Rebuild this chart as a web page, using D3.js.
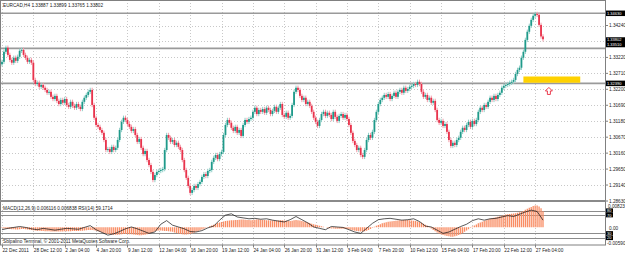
<!DOCTYPE html>
<html>
<head>
<meta charset="utf-8">
<script src="https://cdn.jsdelivr.net/npm/d3@7"></script>
<style>
body{margin:0;background:#fff;}
svg text{font-family:"Liberation Sans",Arial,sans-serif;}
</style>
</head>
<body>
<svg width="625" height="255"></svg>
<script>
// H4 closes (open of a bar = previous close)
var firstOpen = 1.3300;
var closes = [
1.3308,1.3340,1.3353,1.3330,1.3314,1.3305,1.3321,1.3311,1.3324,1.3343,1.3346,1.3330,1.3321,1.3308,1.3314,1.3305,
1.3250,1.3237,1.3241,1.3228,1.3234,1.3225,
1.3218,1.3209,1.3212,1.3196,1.3189,1.3199,1.3183,1.3173,
1.3186,1.3177,1.3189,1.3170,1.3164,1.3180,1.3167,1.3161,1.3173,1.3164,1.3157,
1.3180,1.3193,1.3202,1.3212,1.3218,
1.3170,1.3129,1.3106,1.3100,1.3090,
1.3081,1.3058,1.3026,
1.3029,1.3020,1.3036,1.3026,1.3033,
1.3058,1.3090,1.3116,1.3129,1.3122,
1.3109,1.3100,1.3087,1.3093,1.3074,1.3052,1.3061,1.3033,1.3013,1.3023,1.2994,1.2978,1.2956,
1.2930,1.2946,1.2956,1.2959,1.2962,1.2965,
1.3026,1.3074,
1.3065,1.3052,1.3058,1.3042,1.3049,1.3036,1.3026,
1.2994,1.2962,1.2937,1.2911,1.2889,
1.2898,1.2911,1.2905,1.2917,1.2924,
1.2940,1.2949,1.2943,1.2959,1.2962,
1.2988,1.3001,1.3010,1.2997,1.3013,1.3020,
1.3074,1.3106,1.3122,1.3113,
1.3097,1.3087,1.3100,1.3081,1.3090,
1.3071,1.3106,1.3122,1.3116,1.3125,
1.3129,1.3148,1.3161,1.3141,1.3154,
1.3148,1.3157,1.3145,1.3161,1.3154,1.3141,1.3151,1.3164,1.3148,1.3161,
1.3173,1.3138,1.3132,1.3145,1.3129,1.3135,
1.3170,1.3212,1.3225,1.3218,
1.3199,1.3186,1.3193,1.3173,1.3180,1.3167,
1.3148,1.3129,1.3116,1.3103,1.3122,
1.3141,1.3148,1.3135,1.3145,
1.3138,1.3125,1.3148,1.3132,1.3119,
1.3135,1.3141,1.3129,1.3138,1.3125,
1.3106,1.3081,1.3055,
1.3042,1.3026,1.3033,1.3010,
1.3004,
1.3026,1.3058,1.3074,1.3065,1.3084,
1.3122,1.3148,1.3173,1.3186,
1.3193,1.3202,1.3196,1.3205,1.3189,1.3199,1.3209,1.3196,
1.3212,1.3218,1.3209,1.3225,1.3215,1.3221,1.3228,
1.3231,1.3237,1.3234,1.3244,1.3237,
1.3212,1.3196,1.3202,1.3186,1.3193,1.3177,1.3183,
1.3154,1.3122,
1.3113,1.3119,1.3103,1.3109,
1.3084,1.3058,1.3039,
1.3049,1.3042,1.3058,1.3065,
1.3084,1.3097,1.3090,
1.3106,1.3116,1.3100,1.3119,1.3109,1.3122,
1.3148,1.3161,1.3154,1.3170,1.3164,
1.3180,1.3193,1.3186,1.3199,1.3189,1.3202,1.3209,
1.3225,1.3231,1.3234,
1.3237,1.3241,1.3244,1.3250,
1.3269,1.3282,1.3289,
1.3321,1.3340,
1.3378,1.3404,1.3423,
1.3442,1.3455,1.3461,
1.3458,
1.3426,1.3389,1.3380
];
var wick = 0.0007;

// MACD(12,26,9) main values, one per bar
var macd = [
-0.0002,-0.0004,-0.0005,-0.0006,-0.0006,
-0.0007,-0.0007,-0.0008,-0.0008,-0.0007,-0.0006,-0.0006,-0.0007,-0.0008,-0.0009,-0.0010,
-0.0011,-0.0012,-0.0013,-0.0013,-0.0014,-0.0014,-0.0015,-0.0015,-0.0015,-0.0016,-0.0016,-0.0016,-0.0016,-0.0016,
-0.0016,-0.0016,-0.0015,-0.0015,-0.0015,-0.0015,-0.0014,-0.0014,-0.0014,-0.0014,-0.0013,-0.0013,-0.0012,-0.0011,-0.0010,-0.0010,-0.0010,-0.0011,
-0.0013,-0.0015,-0.0017,-0.0019,-0.0021,-0.0023,-0.0025,-0.0026,-0.0027,-0.0028,-0.0028,-0.0028,-0.0027,-0.0026,-0.0025,-0.0025,-0.0025,-0.0026,-0.0026,-0.0027,-0.0028,-0.0029,-0.0030,-0.0030,-0.0029,-0.0028,-0.0026,
-0.0024,-0.0021,-0.0018,-0.0015,-0.0013,-0.0012,-0.0012,
-0.0013,-0.0014,-0.0014,-0.0015,-0.0016,-0.0017,-0.0019,-0.0021,-0.0023,-0.0025,-0.0026,-0.0027,-0.0027,-0.0026,-0.0025,-0.0023,-0.0020,-0.0017,-0.0014,-0.0011,
-0.0008,-0.0005,-0.0002,0.0001,0.0004,0.0007,0.0010,0.0013,
0.0016,0.0018,0.0020,0.0022,0.0024,0.0025,0.0026,0.0027,0.0027,0.0028,
0.0028,0.0029,0.0030,0.0030,0.0029,0.0028,0.0028,0.0027,0.0028,0.0029,0.0030,0.0030,0.0029,0.0028,0.0028,0.0027,0.0027,0.0026,0.0026,0.0025,0.0025,0.0026,0.0027,0.0027,0.0026,0.0025,0.0024,0.0024,0.0025,0.0027,0.0028,0.0027,0.0026,
0.0024,0.0022,0.0020,0.0018,0.0016,0.0014,0.0012,0.0010,0.0008,0.0006,0.0004,
0.0002,0.0000,-0.0002,-0.0003,-0.0004,-0.0004,-0.0005,-0.0005,-0.0005,-0.0005,-0.0005,-0.0005,-0.0006,-0.0007,-0.0009,
-0.0011,-0.0013,-0.0014,-0.0015,-0.0016,-0.0016,-0.0015,-0.0013,-0.0010,-0.0006,
-0.0002,0.0002,0.0006,0.0009,0.0012,0.0015,0.0017,0.0019,0.0021,0.0022,0.0023,0.0024,0.0025,0.0026,0.0027,0.0027,0.0028,0.0028,0.0028,0.0027,
0.0026,0.0025,0.0024,0.0022,0.0020,0.0017,0.0014,0.0010,0.0006,0.0002,
-0.0004,-0.0010,-0.0015,-0.0019,-0.0023,-0.0026,-0.0029,-0.0031,-0.0033,-0.0034,-0.0035,-0.0035,-0.0034,-0.0032,-0.0029,-0.0026,-0.0022,-0.0017,-0.0012,-0.0007,
-0.0002,0.0003,0.0007,0.0011,0.0015,0.0018,0.0021,0.0024,0.0027,0.0030,0.0032,0.0034,0.0036,0.0038,0.0040,0.0042,0.0044,0.0046,0.0048,0.0049,0.0050,0.0051,0.0052,0.0053,0.0055,0.0057,0.0059,0.0062,0.0066,0.0070,0.0074,
0.0077,0.0080,0.0082,0.0082,0.0079,0.0072,0.0061
];

// RSI(14), one reading every 3 bars
var rsiStep = 3;
var rsi = [38,41,43,45,43,40,38,41,39,37,39,41,40,39,43,47,38,32,26,29,
34,40,44,40,35,30,33,50,58,48,44,40,34,33,36,42,46,59,70,73,
66,64,62,63,61,62,59,57,55,60,67,60,53,44,41,38,45,44,43,38,
33,30,41,52,60,62,63,61,59,60,62,56,46,44,37,30,33,39,45,50,
58,62,59,62,63,66,69,67,72,77,81,78,59];
var rsiLevels = [80, 70, 30, 20];

var priceTicks = [1.28630,1.29140,1.29650,1.30160,1.30670,1.31180,1.31690,1.32200,1.32710,1.33220,1.33730,1.34240];
var dateLabels = ["22 Dec 2011","28 Dec 12:00","2 Jan 04:00","4 Jan 20:00","9 Jan 12:00","12 Jan 04:00",
  "16 Jan 20:00","19 Jan 12:00","24 Jan 04:00","26 Jan 20:00","31 Jan 12:00","3 Feb 04:00",
  "7 Feb 20:00","10 Feb 12:00","15 Feb 04:00","17 Feb 20:00","22 Feb 12:00","27 Feb 04:00"];
var barsPerLabel = 16;

var hLines = [1.34630, 1.33510, 1.32390];
var bidPrice = 1.33802;
var zone = {i0: 266, i1: 295, p0: 1.3241, p1: 1.3261};
var arrowMark = {i: 279, price: 1.3226};

var title = "EURCAD,H4  1.33887 1.33899 1.33765 1.33802";
var subTitle = "MACD(12,26,9) 0.006116 0.006838  RSI(14) 59.1714";
var footer = "Sblpalino Terminal, \u00a9 2001-2011 MetaQuotes Software Corp.";

var svg = d3.select("svg");
var plotRight = 605, mainBottom = 201, subBottom = 244.5;

var x = d3.scaleLinear().domain([0, 276]).range([2, 543]);
var y = d3.scaleLinear().domain([1.28630, 1.34240]).range([201, 25.5]);
var yM = d3.scaleLinear().domain([-0.0059, 0.00823]).range([243, 205.5]);
var yR = d3.scaleLinear().domain([0, 100]).range([247, 201.5]);

var defs = svg.append("defs");
defs.append("clipPath").attr("id", "clipMain").append("rect")
  .attr("x", 0).attr("y", 0).attr("width", plotRight).attr("height", mainBottom);
defs.append("clipPath").attr("id", "clipSub").append("rect")
  .attr("x", 0).attr("y", mainBottom + 1).attr("width", plotRight).attr("height", subBottom - mainBottom - 1);

// grid
var grid = svg.append("g");
grid.selectAll("line.h").data(priceTicks).enter().append("line")
  .attr("x1", 0).attr("x2", plotRight)
  .attr("y1", function(d){ return Math.round(y(d)) + 0.5; })
  .attr("y2", function(d){ return Math.round(y(d)) + 0.5; })
  .attr("stroke", "#c8c8c8").attr("stroke-dasharray", "1,2");
grid.selectAll("line.v").data(dateLabels).enter().append("line")
  .attr("x1", function(d, i){ return Math.round(x(i * barsPerLabel)) + 0.5; })
  .attr("x2", function(d, i){ return Math.round(x(i * barsPerLabel)) + 0.5; })
  .attr("y1", 0).attr("y2", subBottom)
  .attr("stroke", "#c8c8c8").attr("stroke-dasharray", "1,2");

// main window
var main = svg.append("g").attr("clip-path", "url(#clipMain)");

main.selectAll("line.hl").data(hLines).enter().append("line")
  .attr("x1", 0).attr("x2", plotRight)
  .attr("y1", function(d){ return y(d); }).attr("y2", function(d){ return y(d); })
  .attr("stroke", "#9a9a9a").attr("stroke-width", 1.6);

main.append("rect")
  .attr("x", x(zone.i0)).attr("width", x(zone.i1) - x(zone.i0))
  .attr("y", y(zone.p1)).attr("height", y(zone.p0) - y(zone.p1))
  .attr("fill", "#ffd200");

var ax = x(arrowMark.i), ay = y(arrowMark.price);
main.append("path")
  .attr("d", "M" + ax + "," + ay + " l3.5,3.5 h-2 v3.5 h-3 v-3.5 h-2 z")
  .attr("fill", "#fff").attr("stroke", "#e8283c").attr("stroke-width", 0.9);

var bars = closes.map(function(c, i){
  var o = i === 0 ? firstOpen : closes[i - 1];
  return {i: i, o: o, c: c, h: Math.max(o, c) + wick, l: Math.min(o, c) - wick};
});

main.selectAll("line.wick").data(bars).enter().append("line")
  .attr("x1", function(d){ return x(d.i); }).attr("x2", function(d){ return x(d.i); })
  .attr("y1", function(d){ return y(d.h); }).attr("y2", function(d){ return y(d.l); })
  .attr("stroke", function(d){ return d.c >= d.o ? "#8fcfc8" : "#f49aa8"; })
  .attr("stroke-width", 1);

main.selectAll("rect.body").data(bars).enter().append("rect")
  .attr("x", function(d){ return x(d.i) - 0.9; })
  .attr("width", 1.8)
  .attr("y", function(d){ return y(Math.max(d.o, d.c)); })
  .attr("height", function(d){ return Math.max(1, Math.abs(y(d.o) - y(d.c))); })
  .attr("fill", function(d){ return d.c >= d.o ? "#1f9a8a" : "#e8334c"; });

// sub window
var sub = svg.append("g").attr("clip-path", "url(#clipSub)");
sub.selectAll("line.lvl").data(rsiLevels).enter().append("line")
  .attr("x1", 0).attr("x2", plotRight)
  .attr("y1", function(d){ return Math.round(yR(d)) + 0.5; })
  .attr("y2", function(d){ return Math.round(yR(d)) + 0.5; })
  .attr("stroke", "#6e6e6e").attr("stroke-width", 0.8);

sub.selectAll("line.hist").data(macd).enter().append("line")
  .attr("x1", function(d, i){ return x(i); }).attr("x2", function(d, i){ return x(i); })
  .attr("y1", yM(0)).attr("y2", function(d){ return yM(d); })
  .attr("stroke", "#f98d64").attr("stroke-width", 1.3);

sub.append("path")
  .datum(rsi)
  .attr("d", d3.line().x(function(d, k){ return x(k * rsiStep); }).y(function(d){ return yR(d); }))
  .attr("fill", "none").attr("stroke", "#111").attr("stroke-width", 0.7);

// frame
svg.append("rect").attr("x", 0.5).attr("y", 0.5).attr("width", plotRight).attr("height", subBottom)
  .attr("fill", "none").attr("stroke", "#808080");
svg.append("line").attr("x1", 0).attr("x2", plotRight + 1).attr("y1", mainBottom).attr("y2", mainBottom)
  .attr("stroke", "#8a8a8a").attr("stroke-width", 2);

// right price axis
var fs = 4.7;
var boxes = [
  {y: y(hLines[0]), t: "1.34630"},
  {y: y(bidPrice) + 0.8, t: "1.33802"},
  {y: y(bidPrice) + 5.3, t: "1.33510"},
  {y: y(hLines[2]), t: "1.32390"}
];
var axisG = svg.append("g");
axisG.selectAll("text.pt").data(priceTicks.filter(function(p){
    return boxes.every(function(b){ return Math.abs(b.y - y(p)) > 5; });
  })).enter().append("text")
  .attr("x", 609).attr("y", function(d){ return y(d); })
  .attr("dy", "0.35em").attr("font-size", fs).attr("fill", "#222")
  .text(function(d){ return d.toFixed(5); });
axisG.selectAll("line.pt").data(priceTicks).enter().append("line")
  .attr("x1", plotRight).attr("x2", plotRight + 3)
  .attr("y1", function(d){ return y(d); }).attr("y2", function(d){ return y(d); })
  .attr("stroke", "#808080");

function blackBox(yc, t, h, w) {
  axisG.append("rect").attr("x", 606).attr("y", yc - h / 2).attr("width", w).attr("height", h).attr("fill", "#000");
  axisG.append("text").attr("x", 607).attr("y", yc).attr("dy", "0.35em")
    .attr("font-size", fs * 0.85).attr("fill", "#fff").text(t);
}
boxes.forEach(function(b){ blackBox(b.y, b.t, 5.5, 19); });
rsiLevels.forEach(function(l){ blackBox(yR(l), String(l), 4.4, 7); });

axisG.append("text").attr("x", 608).attr("y", yM(0.00823) + 0.5).attr("dy", "0.35em")
  .attr("font-size", fs).attr("fill", "#222").text("0.00823");
axisG.append("text").attr("x", 609).attr("y", yM(0) + 1.5).attr("dy", "0.35em")
  .attr("font-size", fs).attr("fill", "#222").text("0.00");
axisG.append("text").attr("x", 607).attr("y", yM(-0.0059)).attr("dy", "0.35em")
  .attr("font-size", fs).attr("fill", "#222").text("-0.00590");

// time axis
var tAxis = svg.append("g");
tAxis.selectAll("line").data(dateLabels).enter().append("line")
  .attr("x1", function(d, i){ return Math.round(x(i * barsPerLabel)) + 0.5; })
  .attr("x2", function(d, i){ return Math.round(x(i * barsPerLabel)) + 0.5; })
  .attr("y1", subBottom).attr("y2", subBottom + 3)
  .attr("stroke", "#808080");
tAxis.selectAll("text").data(dateLabels).enter().append("text")
  .attr("x", function(d, i){ return x(i * barsPerLabel) + 0.5; })
  .attr("y", 250.5).attr("dy", "0.35em")
  .attr("font-size", fs).attr("fill", "#222")
  .text(function(d){ return d; });

// captions
svg.append("text").attr("x", 3).attr("y", 5.5).attr("dy", "0.35em")
  .attr("font-size", fs).attr("fill", "#222").text(title);
svg.append("text").attr("x", 3).attr("y", 208.5).attr("dy", "0.35em")
  .attr("font-size", fs).attr("fill", "#222").text(subTitle);
svg.append("text").attr("x", 3).attr("y", 241.5).attr("dy", "0.35em")
  .attr("font-size", fs).attr("fill", "#222").text(footer);
</script>
</body>
</html>
